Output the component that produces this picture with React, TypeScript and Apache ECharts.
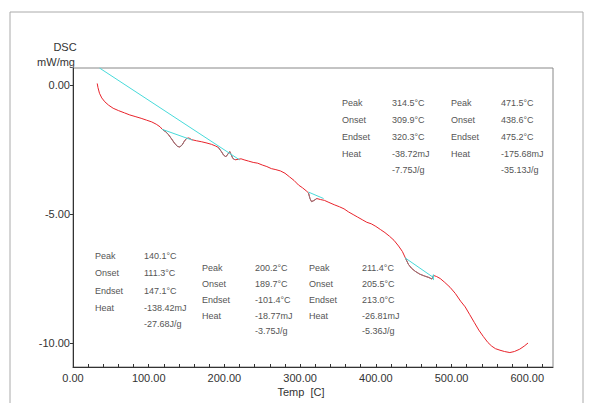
import React, { useEffect, useRef } from "react";
import * as echarts from "echarts";

// DSC curve (temperature in C, heat flow in mW/mg)
const temps = [32, 33, 35, 38, 42, 47, 53, 60, 68, 75, 82, 90, 97, 104, 110, 115, 118, 122, 126, 130, 134, 138, 141, 144, 147, 150, 153, 157, 163, 170, 177, 183, 188, 192, 196, 199, 202, 205, 207, 209, 211, 214, 218, 222, 226, 232, 238, 244, 250, 256, 262, 268, 274, 280, 286, 292, 298, 303, 308, 311, 313, 315, 318, 322, 327, 332, 338, 345, 352, 358, 364, 370, 376, 382, 388, 394, 400, 406, 412, 418, 424, 430, 435, 439, 443, 447, 452, 458, 464, 470, 474, 476, 480, 485, 491, 498, 505, 512, 518, 524, 530, 536, 542, 548, 553, 558, 564, 570, 577, 583, 590, 596, 601];
const dsc = [0.06, -0.1, -0.32, -0.5, -0.65, -0.78, -0.9, -0.99, -1.08, -1.16, -1.22, -1.29, -1.36, -1.43, -1.52, -1.62, -1.72, -1.8, -1.92, -2.08, -2.25, -2.38, -2.4, -2.33, -2.18, -2.07, -2.05, -2.12, -2.16, -2.2, -2.25, -2.3, -2.36, -2.42, -2.58, -2.72, -2.78, -2.66, -2.58, -2.7, -2.84, -2.9, -2.88, -2.86, -2.9, -2.95, -3.0, -3.03, -3.1, -3.16, -3.24, -3.28, -3.33, -3.42, -3.56, -3.7, -3.88, -3.98, -4.1, -4.18, -4.4, -4.52, -4.48, -4.4, -4.44, -4.47, -4.55, -4.64, -4.72, -4.8, -4.92, -5.02, -5.12, -5.22, -5.32, -5.38, -5.48, -5.6, -5.72, -5.86, -6.02, -6.24, -6.45, -6.7, -6.95, -7.1, -7.22, -7.33, -7.4, -7.46, -7.52, -7.38, -7.42, -7.5, -7.65, -7.84, -8.08, -8.38, -8.6, -8.9, -9.2, -9.5, -9.75, -9.98, -10.12, -10.22, -10.28, -10.33, -10.37, -10.33, -10.24, -10.12, -10.0];

// Peak integration ranges (onset..endset region of the curve)
const peakRanges = [[118, 150], [189, 214], [309, 322], [439, 476]];

// Baselines (temperature, value)
const baseLongT = [35, 220];
const baseLongV = [0.66, -2.9];
const base140T = [118, 158];
const base140V = [-1.72, -2.14];
const base314T = [311, 331];
const base314V = [-4.15, -4.4];
const base471T = [438.6, 476];
const base471V = [-6.7, -7.46];
const base471TickT = [476, 476];
const base471TickV = [-7.34, -7.56];

// Axis ticks/labels
const xLabels = [0, 100, 200, 300, 400, 500, 600];
const xTicks = [0, 20, 40, 60, 80, 100, 120, 140, 160, 180, 200, 220, 240, 260, 280, 300, 320, 340, 360, 380, 400, 420, 440, 460, 480, 500, 520, 540, 560, 580, 600, 620];
const yLabels = [0, -5, -10];

// Annotation tables
const box1Labels = ["Peak", "Onset", "Endset", "Heat", ""];
const box1Values = ["314.5°C", "309.9°C", "320.3°C", "-38.72mJ", "-7.75J/g"];
const box2Labels = ["Peak", "Onset", "Endset", "Heat", ""];
const box2Values = ["471.5°C", "438.6°C", "475.2°C", "-175.68mJ", "-35.13J/g"];
const box3Labels = ["Peak", "Onset", "Endset", "Heat", ""];
const box3Values = ["140.1°C", "111.3°C", "147.1°C", "-138.42mJ", "-27.68J/g"];
const box4Labels = ["Peak", "Onset", "Endset", "Heat", ""];
const box4Values = ["200.2°C", "189.7°C", "-101.4°C", "-18.77mJ", "-3.75J/g"];
const box5Labels = ["Peak", "Onset", "Endset", "Heat", ""];
const box5Values = ["211.4°C", "205.5°C", "213.0°C", "-26.81mJ", "-5.36J/g"];

const pairs = (t: number[], v: number[]) => t.map((x, i) => [x, v[i]]);

export default function App() {
  const ref = useRef<HTMLDivElement>(null);
  useEffect(() => {
    document.body.style.margin = "0";
    if (!ref.current) return;
    const chart = echarts.init(ref.current, undefined, { renderer: "svg" });
    const font = "Liberation Sans, Arial, sans-serif";
    const textEls: any[] = [];
    const addBox = (labels: string[], values: string[], xl: number, xv: number, ys: number[]) => {
      labels.forEach((l, i) => {
        if (l) textEls.push({ type: "text", x: xl, y: ys[i], style: { text: l, fill: "#555", fontSize: 9, fontFamily: font, verticalAlign: "middle" } });
        textEls.push({ type: "text", x: xv, y: ys[i], style: { text: values[i], fill: "#555", fontSize: 9, fontFamily: font, verticalAlign: "middle" } });
      });
    };
    const rowsTop = [103, 120, 137, 154, 170];
    const rowsB1 = [256, 273, 291, 308, 324];
    const rowsB2 = [268, 284, 300, 316, 331];
    addBox(box1Labels, box1Values, 342, 392, rowsTop);
    addBox(box2Labels, box2Values, 451, 501, rowsTop);
    addBox(box3Labels, box3Values, 95, 144, rowsB1);
    addBox(box4Labels, box4Values, 202, 255, rowsB2);
    addBox(box5Labels, box5Values, 309, 362, rowsB2);

    const full = pairs(temps, dsc);
    const peakSeries = peakRanges.map((r) => ({
      type: "line",
      data: full.filter((p) => p[0] >= r[0] && p[0] <= r[1]),
      symbol: "none",
      lineStyle: { color: "#8a7c80", width: 1 },
      z: 4,
    }));
    const cyan = "#48dada";
    const baseSeries = [
      pairs(baseLongT, baseLongV),
      pairs(base140T, base140V),
      pairs(base314T, base314V),
      pairs(base471T, base471V),
      pairs(base471TickT, base471TickV),
    ].map((d) => ({ type: "line", data: d, symbol: "none", lineStyle: { color: cyan, width: 1 }, z: 5 }));

    chart.setOption({
      animation: false,
      grid: { left: 73, top: 68, right: 37, bottom: 36, show: true, borderColor: "#888", borderWidth: 1, backgroundColor: "transparent" },
      xAxis: {
        type: "value",
        min: 0,
        max: 634,
        axisLine: { show: true, onZero: false, lineStyle: { color: "#333" } },
        axisTick: { show: true, inside: true, length: 3, customValues: xTicks, lineStyle: { color: "#333" } },
        axisLabel: { customValues: xLabels, formatter: (v: number) => v.toFixed(2), color: "#333", fontSize: 11, fontFamily: font, margin: 5 },
        splitLine: { show: false },
      },
      yAxis: {
        type: "value",
        min: -10.93,
        max: 0.66,
        axisLine: { show: true, onZero: false, lineStyle: { color: "#333" } },
        axisTick: { show: true, length: 3, customValues: yLabels, lineStyle: { color: "#333" } },
        axisLabel: { customValues: yLabels, formatter: (v: number) => v.toFixed(2), color: "#333", fontSize: 11, fontFamily: font, margin: 3 },
        splitLine: { show: false },
      },
      series: [
        { type: "line", data: full, symbol: "none", lineStyle: { color: "#e8232b", width: 1 }, z: 3 },
        ...peakSeries,
        ...baseSeries,
      ],
      graphic: [
        { type: "rect", shape: { x: 10, y: 12, width: 573, height: 400 }, style: { fill: "none", stroke: "#aaa", lineWidth: 1 }, silent: true },
        { type: "text", x: 65, y: 47, style: { text: "DSC", fill: "#333", fontSize: 11, fontFamily: font, align: "center", verticalAlign: "middle" } },
        { type: "text", x: 75, y: 62, style: { text: "mW/mg", fill: "#333", fontSize: 11, fontFamily: font, align: "right", verticalAlign: "middle" } },
        { type: "text", x: 301, y: 392, style: { text: "Temp  [C]", fill: "#333", fontSize: 11, fontFamily: font, align: "center", verticalAlign: "middle" } },
        ...textEls,
      ],
    });
    return () => chart.dispose();
  }, []);
  return <div ref={ref} style={{ width: 590, height: 403 }} />;
}
